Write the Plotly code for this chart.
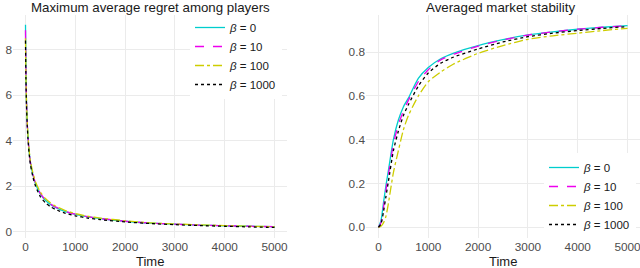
import plotly.graph_objects as go

# ---------------- data ----------------
betas = ["0", "10", "100", "1000"]
colors = ["#00CDCD", "#EE00EE", "#CDCD00", "#000000"]
dashes = ["solid", "dash", "dashdot", "dot"]

t_regret = [1, 10, 20, 35, 50, 75, 100, 150, 200, 300, 400, 500, 600, 800,
            1000, 1250, 1500, 2000, 2500, 3000, 3500, 4000, 4500, 5000]
regret_b0 = [9.1, 7.0, 5.8, 4.8, 4.2, 3.5, 3.05, 2.5, 2.12, 1.65, 1.38, 1.2, 1.07, 0.88,
             0.76, 0.65, 0.58, 0.46, 0.38, 0.33, 0.29, 0.26, 0.24, 0.22]
regret_b10 = [8.85, 6.9, 5.8, 4.8, 4.2, 3.5, 3.05, 2.52, 2.15, 1.68, 1.4, 1.22, 1.09, 0.9,
              0.77, 0.66, 0.58, 0.46, 0.38, 0.33, 0.29, 0.26, 0.24, 0.22]
regret_b100 = [8.5, 6.8, 5.8, 4.85, 4.25, 3.55, 3.1, 2.58, 2.2, 1.74, 1.46, 1.27, 1.13, 0.93,
               0.8, 0.68, 0.6, 0.48, 0.39, 0.34, 0.3, 0.27, 0.24, 0.22]
regret_b1000 = [8.4, 6.7, 5.6, 4.7, 4.1, 3.4, 2.95, 2.4, 2.02, 1.53, 1.27, 1.1, 0.98, 0.81,
                0.7, 0.6, 0.53, 0.43, 0.36, 0.31, 0.27, 0.24, 0.21, 0.19]

t_stab = [0, 50, 100, 150, 200, 300, 400, 500, 600, 800, 1000, 1250, 1500,
          2000, 2500, 3000, 3500, 4000, 4500, 5000]
stab_b0 = [0.0, 0.03, 0.11, 0.19, 0.26, 0.40, 0.49, 0.55, 0.59, 0.68, 0.73, 0.77, 0.795,
           0.83, 0.857, 0.879, 0.893, 0.905, 0.914, 0.921]
stab_b10 = [0.0, 0.02, 0.09, 0.17, 0.24, 0.38, 0.47, 0.53, 0.58, 0.665, 0.72, 0.765, 0.79,
            0.828, 0.856, 0.878, 0.893, 0.905, 0.914, 0.921]
stab_b100 = [0.0, 0.005, 0.02, 0.05, 0.11, 0.25, 0.35, 0.445, 0.51, 0.60, 0.665, 0.71, 0.745,
             0.795, 0.83, 0.859, 0.875, 0.887, 0.899, 0.909]
stab_b1000 = [0.0, 0.015, 0.07, 0.14, 0.21, 0.35, 0.44, 0.51, 0.56, 0.645, 0.705, 0.75, 0.777,
              0.815, 0.847, 0.871, 0.887, 0.899, 0.909, 0.917]

x_ticks = [0, 1000, 2000, 3000, 4000, 5000]
regret_ticks = [0, 2, 4, 6, 8]
stab_ticks = [0.0, 0.2, 0.4, 0.6, 0.8]
stab_ticktext = ["0.0", "0.2", "0.4", "0.6", "0.8"]

regret_series = [regret_b0, regret_b10, regret_b100, regret_b1000]
stab_series = [stab_b0, stab_b10, stab_b100, stab_b1000]

# ---------------- figure ----------------
fig = go.Figure()
for b, c, d, ys in zip(betas, colors, dashes, regret_series):
    fig.add_trace(go.Scatter(x=t_regret, y=ys, mode="lines", xaxis="x", yaxis="y",
                             line=dict(color=c, dash=d, width=1.3, shape="spline", smoothing=0.6),
                             name=f"<i>β</i> = {b}", legend="legend"))
for b, c, d, ys in zip(betas, colors, dashes, stab_series):
    fig.add_trace(go.Scatter(x=t_stab, y=ys, mode="lines", xaxis="x2", yaxis="y2",
                             line=dict(color=c, dash=d, width=1.3, shape="spline", smoothing=0.6),
                             name=f"<i>β</i> = {b}", legend="legend2"))

W, H = 640, 268
grid = "#EBEBEB"
FONT = "Liberation Sans, Arial, sans-serif"
tickfont = dict(family=FONT, size=11.8, color="#4D4D4D")

def ydom(top_px, bot_px):
    return [(H - bot_px) / H, (H - top_px) / H]

axis_common = dict(showgrid=True, gridcolor=grid, gridwidth=1, zeroline=False,
                   showline=False, ticks="", tickfont=tickfont, ticklabeloverflow="allow")

legend_common = dict(bgcolor="white", borderwidth=0,
                     font=dict(family=FONT, size=11.5, color="#1A1A1A"),
                     itemwidth=30, tracegroupgap=0, yanchor="top", xanchor="left")

fig.update_layout(
    width=W, height=H,
    margin=dict(l=0, r=0, t=0, b=0),
    paper_bgcolor="white", plot_bgcolor="white",
    font=dict(family=FONT),
    xaxis=dict(domain=[13 / W, 287 / W], range=[-250, 5250], tickvals=x_ticks, **axis_common),
    yaxis=dict(domain=ydom(15, 238), range=[-0.277, 9.525], tickvals=regret_ticks, **axis_common),
    xaxis2=dict(domain=[366 / W, 640 / W], range=[-250, 5250], tickvals=x_ticks, anchor="y2", **axis_common),
    yaxis2=dict(domain=ydom(15, 238), range=[-0.049, 0.970], tickvals=stab_ticks,
                ticktext=stab_ticktext, anchor="x2", **axis_common),
    legend=dict(x=190 / W, y=(H - 13) / H, **legend_common),
    legend2=dict(x=544 / W, y=(H - 153) / H, **legend_common),
    showlegend=True,
    hovermode=False,
)

title_font = dict(family=FONT, size=13.3, color="#1A1A1A")
fig.add_annotation(text="Maximum average regret among players", x=150 / W, y=(H - 7) / H,
                   xref="paper", yref="paper", showarrow=False, font=title_font,
                   xanchor="center", yanchor="middle")
fig.add_annotation(text="Averaged market stability", x=500 / W, y=(H - 7) / H,
                   xref="paper", yref="paper", showarrow=False, font=title_font,
                   xanchor="center", yanchor="middle")
axt_font = dict(family=FONT, size=13, color="#1A1A1A")
fig.add_annotation(text="Time", x=150 / W, y=(H - 261.5) / H, xref="paper", yref="paper",
                   showarrow=False, font=axt_font, xanchor="center", yanchor="middle")
fig.add_annotation(text="Time", x=503 / W, y=(H - 261.5) / H, xref="paper", yref="paper",
                   showarrow=False, font=axt_font, xanchor="center", yanchor="middle")

fig.write_html("out.html",
               config={"displayModeBar": False, "staticPlot": True},
               post_script="document.body.style.margin='0';document.body.style.padding='0';"
                           "document.body.style.overflow='hidden';")
